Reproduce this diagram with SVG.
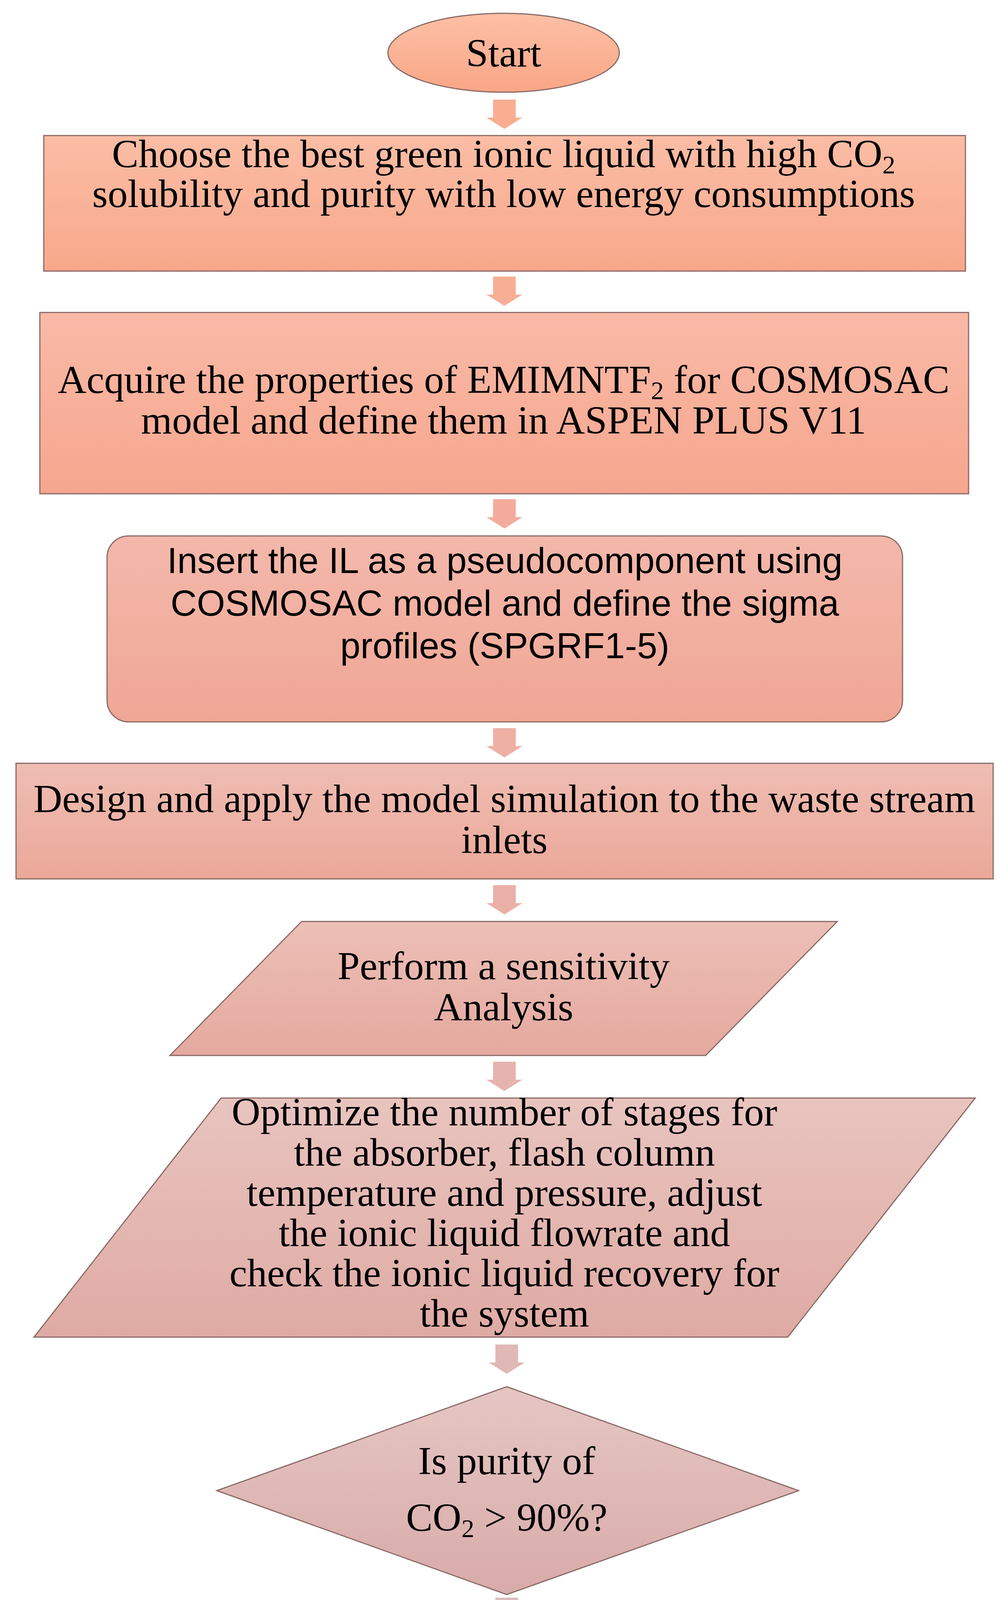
<svg xmlns="http://www.w3.org/2000/svg" width="2562" height="5123" viewBox="0 0 2562 5123">
<style>
.t{font-family:"Liberation Serif","Times New Roman",serif;font-size:102px;fill:#000;text-anchor:middle}
.s{font-family:"Liberation Sans",Arial,sans-serif;font-size:93px;fill:#000;text-anchor:middle}
.n{stroke:#8a6a66;stroke-width:3}
</style>
<defs>
<linearGradient id="g0" x1="0" y1="0" x2="0" y2="1"><stop offset="0" stop-color="#FDC0A6"/><stop offset="1" stop-color="#F9A686"/></linearGradient>
<linearGradient id="g1" x1="0" y1="0" x2="0" y2="1"><stop offset="0" stop-color="#FBBDA5"/><stop offset="1" stop-color="#F8A88B"/></linearGradient>
<linearGradient id="g2" x1="0" y1="0" x2="0" y2="1"><stop offset="0" stop-color="#F9BAA7"/><stop offset="1" stop-color="#F6A68E"/></linearGradient>
<linearGradient id="g3" x1="0" y1="0" x2="0" y2="1"><stop offset="0" stop-color="#F3B8AB"/><stop offset="1" stop-color="#F0A695"/></linearGradient>
<linearGradient id="g4" x1="0" y1="0" x2="0" y2="1"><stop offset="0" stop-color="#EFBDB3"/><stop offset="1" stop-color="#EBA899"/></linearGradient>
<linearGradient id="g5" x1="0" y1="0" x2="0" y2="1"><stop offset="0" stop-color="#ECBFB7"/><stop offset="1" stop-color="#E5A99E"/></linearGradient>
<linearGradient id="g6" x1="0" y1="0" x2="0" y2="1"><stop offset="0" stop-color="#E9C4BF"/><stop offset="1" stop-color="#DFAAA4"/></linearGradient>
<linearGradient id="g7" x1="0" y1="0" x2="0" y2="1"><stop offset="0" stop-color="#E5C6C4"/><stop offset="1" stop-color="#D8ABA9"/></linearGradient>
<linearGradient id="g8" x1="0" y1="0" x2="0" y2="1"><stop offset="0" stop-color="#E0CBCB"/><stop offset="1" stop-color="#D3B2B4"/></linearGradient>
<linearGradient id="g9" x1="0" y1="0" x2="0" y2="1"><stop offset="0" stop-color="#DACECE"/><stop offset="1" stop-color="#C9B6B8"/></linearGradient>
<linearGradient id="g10" x1="0" y1="0" x2="0" y2="1"><stop offset="0" stop-color="#DCDCDC"/><stop offset="1" stop-color="#BDBDBD"/></linearGradient>
<path id="ar" d="M-29,0 H29 V46 H46 L0,75 L-46,46 H-29 Z"/>
</defs>
<g id="connectors">
<use href="#ar" x="1291" y="255" fill="#F9AE92"/>
<use href="#ar" x="1291" y="708" fill="#F8AE95"/>
<use href="#ar" x="1291" y="1278" fill="#F4AB9C"/>
<use href="#ar" x="1291" y="1864" fill="#EFB0A4"/>
<use href="#ar" x="1291" y="2266" fill="#EAB0A8"/>
<use href="#ar" x="1291" y="2718" fill="#E7B3AE"/>
<use href="#ar" x="1297" y="3442" fill="#E0B8B6"/>
<use href="#ar" x="1297" y="4090" fill="#DBBCBC"/>
<use href="#ar" x="1291" y="4488" fill="#D2C4C4"/>
<use href="#ar" x="1291" y="4801" fill="#CBCBCB"/>
</g>
<g id="start"><ellipse class="n" cx="1289" cy="135" rx="296" ry="101" fill="url(#g0)" stroke="#D9906F"/><text class="t" x="1289" y="170">Start</text></g>
<g id="n1"><rect class="n" x="112" y="347" width="2359" height="347" fill="url(#g1)"/>
<text class="t" x="1289" y="428">Choose the best green ionic liquid with high CO<tspan font-size="66" dy="16">2</tspan></text>
<text class="t" x="1289" y="530">solubility and purity with low energy consumptions</text></g>
<g id="n2"><rect class="n" x="102" y="800" width="2377" height="464" fill="url(#g2)"/>
<text class="t" x="1289" y="1006">Acquire the properties of EMIMNTF<tspan font-size="66" dy="16">2</tspan><tspan dy="-16"> for COSMOSAC</tspan></text>
<text class="t" x="1289" y="1110">model and define them in ASPEN PLUS V11</text></g>
<g id="n3"><rect class="n" x="274" y="1372" width="2036" height="476" rx="55" fill="url(#g3)"/>
<text class="s" x="1292" y="1467">Insert the IL as a pseudocomponent using</text>
<text class="s" x="1292" y="1576">COSMOSAC model and define the sigma</text>
<text class="s" x="1292" y="1685">profiles (SPGRF1-5)</text></g>
<g id="n4"><rect class="n" x="41" y="1954" width="2501" height="296" fill="url(#g4)"/>
<text class="t" x="1291" y="2079">Design and apply the model simulation to the waste stream</text>
<text class="t" x="1291" y="2184">inlets</text></g>
<g id="n5"><polygon class="n" points="772,2359 2143,2359 1806,2702 435,2702" fill="url(#g5)"/>
<text class="t" x="1289" y="2507">Perform a sensitivity</text>
<text class="t" x="1289" y="2612">Analysis</text></g>
<g id="n6"><polygon class="n" points="566,2811 2496,2811 2016,3423 87,3423" fill="url(#g6)"/>
<text class="t" x="1291" y="2881">Optimize the number of stages for</text>
<text class="t" x="1291" y="2984">the absorber, flash column</text>
<text class="t" x="1291" y="3087">temperature and pressure, adjust</text>
<text class="t" x="1291" y="3190">the ionic liquid flowrate and</text>
<text class="t" x="1291" y="3293">check the ionic liquid recovery for</text>
<text class="t" x="1291" y="3396">the system</text></g>
<g id="n7"><polygon class="n" points="1297,3550 2044,3816 1297,4082 555,3816" fill="url(#g7)"/>
<text class="t" x="1297" y="3774">Is purity of</text>
<text class="t" x="1297" y="3919">CO<tspan font-size="66" dy="16">2</tspan><tspan dy="-16"> &gt; 90%?</tspan></text></g>
<g id="n8"><rect class="n" x="145" y="4173" width="2293" height="298" fill="url(#g8)"/>
<text class="t" x="1291" y="4297">Perform the economic analysis and energy savings</text>
<text class="t" x="1291" y="4400">with complete heat integration for the system</text></g>
<g id="n9"><rect class="n" x="340" y="4580" width="1901" height="206" fill="url(#g9)"/>
<text class="t" x="1291" y="4712">Select the best case after the heat integration</text></g>
<g id="end"><ellipse class="n" cx="1289" cy="4994" rx="328" ry="100" fill="url(#g10)" stroke="#8a8a8a"/><text class="t" x="1289" y="5030">End</text></g>
</svg>
